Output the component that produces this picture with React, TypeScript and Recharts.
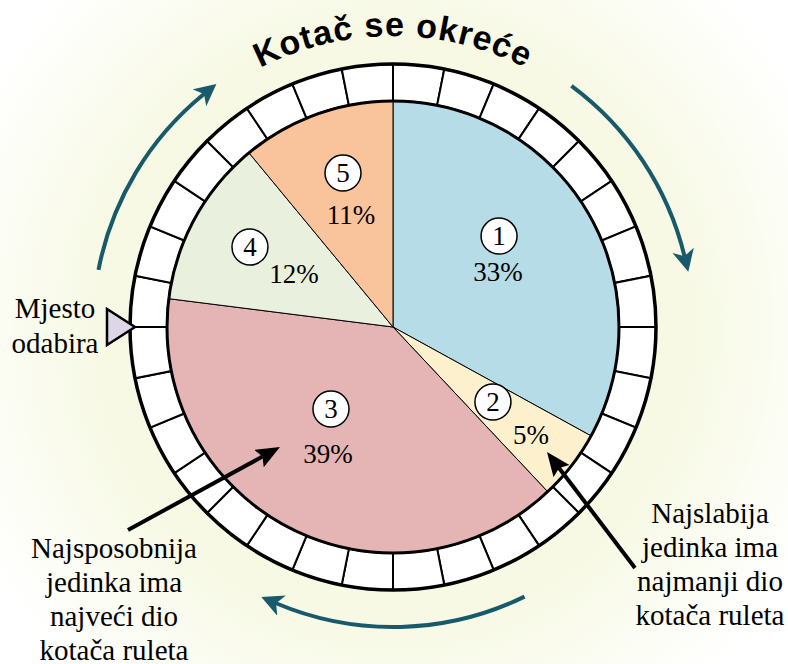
import React from 'react';
import { PieChart, Pie, Cell } from 'recharts';

const sliceNames = ['1', '2', '3', '4', '5'];
const sliceShares = [33, 5, 39, 12, 11];
const sliceColors = ['#b5dce7', '#fdf1cd', '#e4b5b4', '#e9f0dd', '#f9c49c'];
const ringValues = [1, 1, 1, 1, 1, 1, 1, 1, 1, 1, 1, 1, 1, 1, 1, 1, 1, 1, 1, 1, 1, 1, 1, 1, 1, 1, 1, 1, 1, 1, 1, 1];
const titleText = 'Kotač se okreće';
const pointerLines = ['Mjesto', 'odabira'];
const bestLines = ['Najsposobnija', 'jedinka ima', 'najveći dio', 'kotača ruleta'];
const worstLines = ['Najslabija', 'jedinka ima', 'najmanji dio', 'kotača ruleta'];

const sliceData = sliceNames.map((name, i) => ({ name, value: sliceShares[i] }));
const ringData = ringValues.map((v, i) => ({ name: `s${i}`, value: v }));

const W = 788;
const H = 664;
const CX = 393;
const CY = 327;
const R_PIE = 226;
const R_RING = 263;
const SERIF = "'Liberation Serif', 'Times New Roman', serif";
const SANS = "'Liberation Sans', Arial, sans-serif";
const TEAL = '#185a6c';
const serifStyle = { fontFamily: SERIF };

// per-slice label placement: [angle delta from midAngle (deg), radius fraction]
const LABEL_LAYOUT = [
  { c: [10, 0.618], t: [-6.9, 0.507] },
  { c: [0.9, 0.553], t: [-2.5, 0.8] },
  { c: [-10.1, 0.455], t: [1.5, 0.667] },
  { c: [-0.4, 0.725], t: [4.8, 0.479] },
  { c: [-1.8, 0.716], t: [2.4, 0.492] },
];

const RAD = Math.PI / 180;
const polar = (cx: number, cy: number, r: number, deg: number) => ({
  x: cx + r * Math.cos(deg * RAD),
  y: cy - r * Math.sin(deg * RAD),
});

const renderLabel = (props: any) => {
  const { cx, cy, midAngle, outerRadius, index, value, name } = props;
  const lay = LABEL_LAYOUT[index];
  const c = polar(cx, cy, outerRadius * lay.c[1], midAngle + lay.c[0]);
  const t = polar(cx, cy, outerRadius * lay.t[1], midAngle + lay.t[0]);
  return (
    <g key={`lab-${index}`}>
      <circle cx={c.x} cy={c.y} r={18} fill="#ffffff" stroke="#000" strokeWidth={1.5} />
      <text x={c.x} y={c.y + 9} textAnchor="middle" style={serifStyle} fontSize={27} fill="#000">
        {name}
      </text>
      <text x={t.x} y={t.y} textAnchor="middle" style={serifStyle} fontSize={27} fill="#000">
        {`${value}%`}
      </text>
    </g>
  );
};

const arcPath = (r: number, a1: number, a2: number) => {
  const s = polar(CX, CY, r, a1);
  const e = polar(CX, CY, r, a2);
  const large = Math.abs(a1 - a2) > 180 ? 1 : 0;
  return `M ${s.x} ${s.y} A ${r} ${r} 0 ${large} 1 ${e.x} ${e.y}`;
};

const tealArrow = (a1: number, a2: number, key: string) => {
  const r = 300;
  const trim = (16 / r) / RAD;
  return (
    <path key={key} d={arcPath(r, a1, a2 + trim)} fill="none" stroke={TEAL} strokeWidth={4} markerEnd="url(#tealHead)" />
  );
};

const blackArrow = (x1: number, y1: number, x2: number, y2: number, key: string) => {
  const dx = x2 - x1;
  const dy = y2 - y1;
  const len = Math.sqrt(dx * dx + dy * dy);
  const ex = x2 - (dx / len) * 20;
  const ey = y2 - (dy / len) * 20;
  return <line key={key} x1={x1} y1={y1} x2={ex} y2={ey} stroke="#000" strokeWidth={4} markerEnd="url(#blackHead)" />;
};

export default function App() {
  return (
    <div
      style={{
        position: 'absolute',
        left: 0,
        top: 0,
        width: W,
        height: H,
        background: `radial-gradient(circle 470px at ${CX}px ${CY}px, #f5f7de 0%, #f7f9e4 62%, #ffffff 100%)`,
      }}
    >
      <PieChart width={W} height={H} margin={{ top: 0, right: 0, bottom: 0, left: 0 }}>
        <Pie
          data={ringData}
          dataKey="value"
          cx={CX}
          cy={CY}
          innerRadius={R_PIE}
          outerRadius={R_RING}
          startAngle={90}
          endAngle={-270}
          stroke="#000"
          strokeWidth={2}
          fill="#ffffff"
          isAnimationActive={false}
          label={false}
          labelLine={false}
        />
        <Pie
          data={sliceData}
          dataKey="value"
          nameKey="name"
          cx={CX}
          cy={CY}
          innerRadius={0}
          outerRadius={R_PIE}
          startAngle={90}
          endAngle={-270}
          stroke="#000"
          strokeWidth={1}
          isAnimationActive={false}
          label={renderLabel}
          labelLine={false}
        >
          {sliceData.map((d, i) => (
            <Cell key={d.name} fill={sliceColors[i]} />
          ))}
        </Pie>
      </PieChart>
      <svg
        width={W}
        height={H}
        style={{ position: 'absolute', left: 0, top: 0, pointerEvents: 'none' }}
      >
        <defs>
          <marker id="tealHead" markerUnits="userSpaceOnUse" markerWidth={24} markerHeight={24} refX={6} refY={11} orient="auto" viewBox="0 0 24 24">
            <path d="M0,0 L22,11 L0,22 L6,11 Z" fill={TEAL} />
          </marker>
          <marker id="blackHead" markerUnits="userSpaceOnUse" markerWidth={26} markerHeight={24} refX={4} refY={10} orient="auto" viewBox="0 0 26 24">
            <path d="M0,0 L24,10 L0,20 L4,10 Z" fill="#000" />
          </marker>
          <path id="titleArc" d={arcPath(291, 165, 15)} fill="none" />
        </defs>
        <circle cx={CX} cy={CY} r={R_PIE} fill="none" stroke="#000" strokeWidth={3} />
        <circle cx={CX} cy={CY} r={R_RING} fill="none" stroke="#000" strokeWidth={3.5} />
        <text style={{ fontFamily: SANS }} fontWeight="bold" fontSize={34} letterSpacing={1} fill="#000">
          <textPath href="#titleArc" startOffset="50%" textAnchor="middle">
            {titleText}
          </textPath>
        </text>
        {tealArrow(169, 126, 'ta1')}
        {tealArrow(53.5, 10.6, 'ta2')}
        {tealArrow(-64, -116, 'ta3')}
        {blackArrow(128, 530, 280, 447, 'ba1')}
        {blackArrow(635, 568, 547, 452, 'ba2')}
        <polygon points="107,309 107,345 135,327" fill="#dcd6e6" stroke="#000" strokeWidth={2.5} strokeLinejoin="miter" />
        {pointerLines.map((s, i) => (
          <text key={s} x={55} y={318 + i * 35} textAnchor="middle" style={serifStyle} fontSize={29} fill="#000">
            {s}
          </text>
        ))}
        {bestLines.map((s, i) => (
          <text key={`b${i}`} x={114} y={558 + i * 34} textAnchor="middle" style={serifStyle} fontSize={29} fill="#000">
            {s}
          </text>
        ))}
        {worstLines.map((s, i) => (
          <text key={`w${i}`} x={710} y={523 + i * 34} textAnchor="middle" style={serifStyle} fontSize={29} fill="#000">
            {s}
          </text>
        ))}
      </svg>
    </div>
  );
}
